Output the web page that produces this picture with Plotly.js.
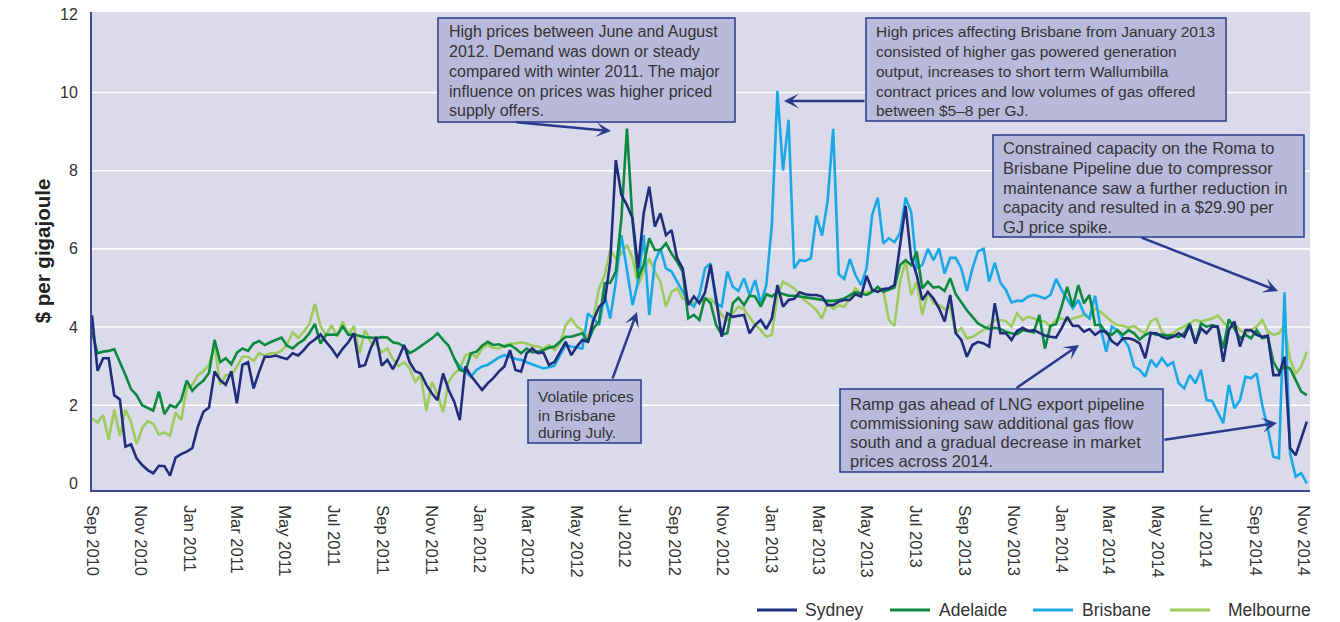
<!DOCTYPE html>
<html>
<head>
<meta charset="utf-8">
<script src="https://cdn.plot.ly/plotly-3.0.1.min.js"></script>
<style>
  html, body { margin: 0; padding: 0; background: #ffffff; }
  #chart { width: 1340px; height: 622px; }
</style>
</head>
<body>
<div id="chart"></div>
<script>
// Weekly average STTM ex ante prices, Sep 2010 - Nov 2014 ($/GJ)
const firstWeek = '2010-09-01';

const sydney = [
  4.30, 2.88, 3.20, 3.20, 2.25, 2.15, 0.94, 1.00, 0.64, 0.47, 0.34, 0.26, 0.45, 0.44, 0.20, 0.66, 0.75, 0.81, 0.90, 1.45, 1.83, 1.94, 2.86, 2.64, 2.52, 2.87, 2.05, 3.03,
  3.10, 2.43, 2.86, 3.24, 3.24, 3.27, 3.22, 3.18, 3.33, 3.27, 3.41, 3.58, 3.68, 3.81, 3.62, 3.45, 3.24, 3.45, 3.61, 3.84, 2.99, 3.03, 3.45, 3.75, 3.01, 3.16, 2.92, 3.20,
  3.54, 3.10, 2.87, 2.81, 2.52, 2.30, 2.13, 2.81, 2.39, 2.09, 1.62, 2.99, 2.75, 2.56, 2.39, 2.56, 2.69, 2.86, 2.99, 3.41, 2.90, 2.86, 3.33, 3.45, 3.33, 3.35, 3.03, 3.11,
  3.37, 3.62, 3.28, 3.50, 3.67, 3.62, 4.18, 4.52, 4.65, 5.67, 8.27, 7.38, 7.12, 6.78, 5.50, 6.91, 7.59, 6.57, 6.91, 6.35, 6.48, 5.76, 5.50, 4.56, 4.78, 4.61, 4.88,
  5.59, 4.73, 3.75, 4.35, 4.26, 4.29, 4.31, 3.84, 4.05, 4.18, 3.95, 4.22, 5.07, 4.52, 4.69, 4.72, 4.89, 4.84, 4.82, 4.82, 4.78, 4.56, 4.56, 4.65, 4.69, 4.69, 4.84, 4.78,
  5.31, 4.95, 4.90, 4.97, 4.99, 5.07, 6.10, 7.10, 5.76, 5.33, 4.69, 4.90, 4.73, 4.48, 4.14, 4.82, 3.84, 3.67, 3.24, 3.54, 3.62, 3.58, 3.50, 4.61, 3.84, 3.84, 3.67, 3.90,
  3.98, 3.90, 3.92, 3.86, 3.78, 3.75, 3.73, 3.97, 4.26, 4.03, 4.03, 3.88, 3.95, 3.80, 3.90, 3.88, 3.64, 3.54, 3.71, 3.71, 3.67, 3.58, 3.20, 3.84, 3.84, 3.75, 3.70, 3.75,
  3.84, 3.75, 4.05, 3.58, 3.97, 3.84, 4.01, 4.01, 3.11, 3.92, 4.14, 3.50, 3.92, 3.92, 3.80, 3.75, 3.78, 2.77, 2.77, 3.24, 0.90, 0.72, 1.15, 1.58
];

const adelaide = [
  3.88, 3.33, 3.37, 3.39, 3.43, 3.11, 2.77, 2.41, 2.26, 2.00, 1.92, 1.86, 2.35, 1.77, 2.00, 1.94, 2.13, 2.63, 2.37, 2.52, 2.63, 2.83, 3.67, 3.10, 3.20, 3.05, 3.34, 3.45,
  3.39, 3.58, 3.64, 3.54, 3.61, 3.68, 3.73, 3.52, 3.45, 3.58, 3.67, 3.84, 4.08, 3.58, 3.80, 3.81, 3.80, 4.01, 3.80, 3.81, 3.77, 3.74, 3.73, 3.71, 3.74, 3.73, 3.61, 3.58,
  3.50, 3.33, 3.41, 3.50, 3.61, 3.71, 3.84, 3.67, 3.52, 3.20, 2.90, 2.86, 3.33, 3.37, 3.52, 3.62, 3.54, 3.56, 3.50, 3.54, 3.45, 3.33, 3.45, 3.35, 3.37, 3.41, 3.47, 3.50,
  3.62, 3.75, 3.75, 3.80, 3.84, 3.62, 3.97, 4.14, 5.12, 5.13, 5.42, 6.78, 9.08, 6.70, 5.25, 5.59, 6.27, 5.97, 5.97, 6.14, 5.88, 5.67, 5.42, 4.22, 4.31, 4.18, 4.75,
  4.61, 4.05, 3.81, 3.84, 4.61, 4.75, 4.56, 4.80, 4.78, 4.52, 4.84, 4.78, 4.89, 4.84, 4.80, 4.80, 4.78, 4.76, 4.75, 4.72, 4.69, 4.67, 4.67, 4.69, 4.73, 4.80, 4.89, 4.86,
  4.82, 4.90, 5.03, 4.90, 4.95, 5.01, 5.59, 5.71, 5.59, 5.93, 4.99, 5.16, 5.01, 5.03, 4.92, 5.25, 4.84, 4.63, 4.43, 4.26, 4.09, 4.01, 3.95, 3.98, 3.95, 3.88, 3.84, 3.82,
  3.92, 3.90, 3.86, 4.31, 3.45, 4.03, 4.07, 4.52, 5.03, 4.52, 5.07, 4.61, 4.82, 4.05, 4.05, 3.84, 3.80, 3.92, 3.80, 3.92, 3.84, 3.68, 3.80, 3.86, 3.80, 3.81, 3.78, 3.78,
  3.75, 3.84, 4.09, 3.58, 4.09, 4.01, 4.05, 4.01, 3.45, 4.20, 3.97, 3.71, 3.80, 3.71, 3.92, 3.71, 3.75, 3.11, 2.86, 2.99, 2.94, 2.64, 2.35, 2.26
];

// Brisbane series only starts in December 2011 on this chart
const brisbane = [
  null, null, null, null, null, null, null, null, null, null, null, null, null, null, null, null, null, null, null, null, null, null, null, null, null, null, null, null,
  null, null, null, null, null, null, null, null, null, null, null, null, null, null, null, null, null, null, null, null, null, null, null, null, null, null, null, null,
  null, null, null, null, null, null, null, null, null,
  3.18, 2.99, 2.86, 2.73, 2.90, 2.99, 3.03, 3.13, 3.22, 3.28, 3.24, 3.18, 3.16, 3.10, 3.04, 2.99, 2.94, 2.97, 3.01,
  3.28, 3.54, 3.50, 3.47, 3.45, 4.35, 4.22, 4.05, 4.82, 4.22, 5.16, 6.35, 5.50, 4.56, 5.16, 6.35, 4.31, 5.67, 6.01, 5.50, 5.42, 5.16, 4.90, 4.65, 4.52, 4.82, 5.50,
  5.63, 4.61, 4.52, 5.42, 5.03, 4.92, 5.25, 4.82, 5.20, 4.61, 5.07, 6.61, 10.04, 8.00, 9.30, 5.50, 5.71, 5.69, 5.76, 6.85, 6.34, 7.21, 9.07, 5.35, 5.23, 5.74, 5.33, 5.07,
  5.50, 6.87, 7.31, 6.14, 6.27, 6.17, 6.40, 7.31, 6.95, 5.50, 5.59, 6.00, 5.71, 6.01, 5.37, 5.77, 5.77, 5.50, 4.92, 5.50, 5.94, 6.00, 5.16, 5.65, 5.14, 4.95, 4.63, 4.67,
  4.67, 4.78, 4.82, 4.78, 4.73, 4.82, 5.23, 4.95, 4.73, 4.48, 4.69, 4.35, 4.22, 4.80, 3.97, 3.37, 4.01, 3.92, 3.71, 3.50, 2.99, 2.90, 2.73, 3.16, 2.99, 3.20, 3.01, 3.10,
  2.56, 2.43, 2.77, 2.56, 2.90, 2.13, 2.11, 1.83, 1.54, 2.52, 1.92, 2.13, 2.73, 2.69, 2.81, 2.00, 1.41, 0.68, 0.64, 4.89, 0.77, 0.17, 0.26, 0.00
];

const melbourne = [
  1.66, 1.56, 1.75, 1.11, 1.89, 1.21, 1.88, 1.58, 1.00, 1.41, 1.59, 1.52, 1.25, 1.30, 1.22, 1.82, 1.62, 2.43, 2.52, 2.77, 2.87, 3.03, 3.54, 2.52, 2.77, 2.77, 2.99, 3.24,
  3.24, 3.13, 3.33, 3.27, 3.33, 3.33, 3.39, 3.56, 3.86, 3.73, 3.88, 4.07, 4.59, 4.03, 3.78, 4.05, 3.75, 4.14, 3.80, 4.03, 3.33, 3.92, 3.61, 3.56, 3.35, 3.45, 3.18, 3.00,
  3.10, 2.94, 2.60, 2.77, 1.85, 2.60, 2.26, 1.82, 2.60, 2.81, 2.94, 3.27, 3.33, 3.22, 3.45, 3.54, 3.47, 3.45, 3.52, 3.58, 3.58, 3.61, 3.58, 3.52, 3.50, 3.45, 3.54, 3.41,
  3.58, 4.05, 4.22, 4.01, 3.92, 3.71, 4.26, 4.99, 5.33, 5.97, 5.76, 5.88, 6.10, 5.76, 5.07, 5.42, 5.76, 5.42, 5.16, 4.52, 4.90, 4.99, 4.73, 4.69, 4.61, 4.65, 4.69,
  4.73, 4.56, 4.31, 4.18, 4.35, 4.52, 4.46, 4.26, 4.05, 3.92, 3.75, 3.80, 4.82, 5.16, 5.07, 4.99, 4.82, 4.67, 4.56, 4.43, 4.22, 4.61, 4.46, 4.56, 4.52, 4.73, 4.99, 4.86,
  4.89, 4.92, 4.99, 4.95, 4.18, 4.03, 5.16, 5.71, 4.82, 5.16, 4.31, 4.90, 4.61, 4.56, 4.46, 4.52, 3.84, 3.97, 3.71, 3.75, 3.84, 3.92, 4.03, 4.18, 4.18, 4.15, 4.01, 4.35,
  4.18, 4.26, 4.22, 4.15, 4.14, 4.01, 4.18, 4.22, 4.15, 4.22, 4.26, 4.31, 4.22, 4.48, 4.39, 4.26, 4.14, 4.05, 4.03, 3.98, 4.03, 3.92, 3.84, 4.15, 4.22, 3.88, 3.77, 3.84,
  3.95, 4.01, 4.09, 4.18, 4.14, 4.18, 4.22, 4.29, 4.14, 3.97, 4.09, 3.92, 3.84, 3.92, 4.01, 4.18, 3.88, 3.80, 3.84, 4.05, 3.16, 2.81, 2.99, 3.37
];

const seriesNames = ['Sydney', 'Adelaide', 'Brisbane', 'Melbourne'];
const seriesColors = ['#1f2d7b', '#0b8a3e', '#18a9e6', '#9dcb5d'];
const yTicks = [0, 2, 4, 6, 8, 10, 12];

// Week dates, one per value
const startMs = Date.parse(firstWeek + 'T00:00:00Z');
const weeks = sydney.map((_, i) => new Date(startMs + i * 7 * 86400000).toISOString().slice(0, 10));

// Plot area in page pixels, used to place call-outs and the legend
const PLOT = { l: 92, t: 12, w: 1218, h: 478 };
const px = x => (x - PLOT.l) / PLOT.w;
const py = y => (PLOT.t + PLOT.h - y) / PLOT.h;

const FONT = 'Liberation Sans, Arial, Helvetica, sans-serif';
const NAVY = '#2a3a8c';
const TEXT = '#333333';

// box = [left, top, right, bottom]; rows = vertical centre of each text line
const callouts = [
  { box: [438, 18, 735, 122], tx: 447, size: 16, rows: [31, 51, 71, 91, 110],
    lines: ['High prices between June and August', '2012. Demand was down or steady', 'compared with winter 2011. The major', 'influence on prices was higher priced', 'supply offers.'] },
  { box: [528, 380, 641, 443], tx: 536, size: 15.5, rows: [396, 415, 433],
    lines: ['Volatile prices', 'in Brisbane', 'during July.'] },
  { box: [866, 18, 1226, 121], tx: 874, size: 15.5, rows: [31, 51, 71, 91, 110],
    lines: ['High prices affecting Brisbane from January 2013', 'consisted of higher gas powered generation', 'output, increases to short term Wallumbilla', 'contract prices and low volumes of gas offered', 'between $5–8 per GJ.'] },
  { box: [993, 135, 1304, 237], tx: 1001, size: 16.5, rows: [148, 168, 188, 207, 227],
    lines: ['Constrained capacity on the Roma to', 'Brisbane Pipeline due to compressor', 'maintenance saw a further reduction in', 'capacity and resulted in a $29.90 per', 'GJ price spike.'] },
  { box: [840, 389, 1163, 472], tx: 848, size: 16.5, rows: [404, 423, 442, 461],
    lines: ['Ramp gas ahead of LNG export pipeline', 'commissioning saw additional gas flow', 'south and a gradual decrease in market', 'prices across 2014.'] }
];

// [tailX, tailY, tipX, tipY] in page pixels
const arrows = [
  [515, 122, 611, 131],
  [612, 380, 637, 312],
  [866, 101, 784, 101],
  [1140, 237, 1278, 291],
  [1015, 389, 1079, 345],
  [1163, 440, 1277, 423]
];

// legend entries: line start x, text start x (page pixels), row y
const legendLineX = [757, 890, 1033, 1170];
const legendTextX = [803, 937, 1080, 1226];
const legendY = 610;

const seriesValues = [sydney, adelaide, brisbane, melbourne];
const drawOrder = [3, 2, 1, 0];
const traces = drawOrder.map(i => ({
  x: weeks,
  y: seriesValues[i],
  type: 'scatter',
  mode: 'lines',
  name: seriesNames[i],
  connectgaps: false,
  showlegend: false,
  line: { color: seriesColors[i], width: 2.6 }
}));

const shapes = [];
// horizontal white gridlines (none at zero)
[2, 4, 6, 8, 10].forEach(v => shapes.push({
  type: 'line', xref: 'paper', yref: 'y', x0: 0, x1: 1, y0: v, y1: v,
  line: { color: '#ffffff', width: 1.6 }, layer: 'below'
}));
callouts.forEach(c => shapes.push({
  type: 'rect', xref: 'paper', yref: 'paper',
  x0: px(c.box[0]), x1: px(c.box[2]), y0: py(c.box[3]), y1: py(c.box[1]),
  fillcolor: '#b9b9db', line: { color: NAVY, width: 1.5 }, layer: 'above'
}));
seriesNames.forEach((n, i) => shapes.push({
  type: 'line', xref: 'paper', yref: 'paper',
  x0: px(legendLineX[i]), x1: px(legendLineX[i] + 40), y0: py(legendY), y1: py(legendY),
  line: { color: seriesColors[i], width: 3 }
}));

const annotations = [];
callouts.forEach(c => c.lines.forEach((t, k) => annotations.push({
  xref: 'paper', yref: 'paper', x: px(c.tx), y: py(c.rows[k]),
  xanchor: 'left', yanchor: 'middle', align: 'left', showarrow: false,
  text: t, font: { family: FONT, size: c.size, color: TEXT }
})));
arrows.forEach(a => annotations.push({
  xref: 'paper', yref: 'paper', x: px(a[2]), y: py(a[3]),
  ax: a[0] - a[2], ay: a[1] - a[3], text: '', showarrow: true,
  arrowhead: 3, arrowsize: 1, arrowwidth: 2.5, arrowcolor: NAVY, standoff: 0
}));
seriesNames.forEach((n, i) => annotations.push({
  xref: 'paper', yref: 'paper', x: px(legendTextX[i]), y: py(legendY),
  xanchor: 'left', yanchor: 'middle', showarrow: false,
  text: n, font: { family: FONT, size: 17.5, color: TEXT }
}));

const layout = {
  width: 1340,
  height: 622,
  margin: { l: PLOT.l, r: 1340 - PLOT.l - PLOT.w, t: PLOT.t, b: 622 - PLOT.t - PLOT.h },
  paper_bgcolor: '#ffffff',
  plot_bgcolor: '#dadaea',
  font: { family: FONT, size: 16, color: TEXT },
  showlegend: false,
  xaxis: {
    type: 'date',
    range: ['2010-09-01', '2014-11-09'],
    tick0: '2010-09-01',
    dtick: 'M2',
    tickformat: '%b %Y',
    tickangle: 90,
    ticks: '',
    ticklabelstandoff: 10,
    tickfont: { family: FONT, size: 16.5, color: TEXT },
    showgrid: false,
    zeroline: false,
    showline: true,
    linecolor: '#3a4a98',
    linewidth: 2
  },
  yaxis: {
    range: [-0.17, 12.06],
    tickvals: yTicks,
    ticktext: yTicks.map(String),
    ticks: '',
    ticklabelstandoff: 9,
    tickfont: { family: FONT, size: 16, color: TEXT },
    showgrid: false,
    zeroline: false,
    showline: true,
    linecolor: '#3a4a98',
    linewidth: 2,
    title: { text: '$ per gigajoule', standoff: 4, font: { family: FONT, size: 20.5, color: '#222222', weight: 'bold' } }
  },
  shapes: shapes,
  annotations: annotations,
  hovermode: false
};

Plotly.newPlot('chart', traces, layout, { displayModeBar: false, responsive: false });
</script>
</body>
</html>
